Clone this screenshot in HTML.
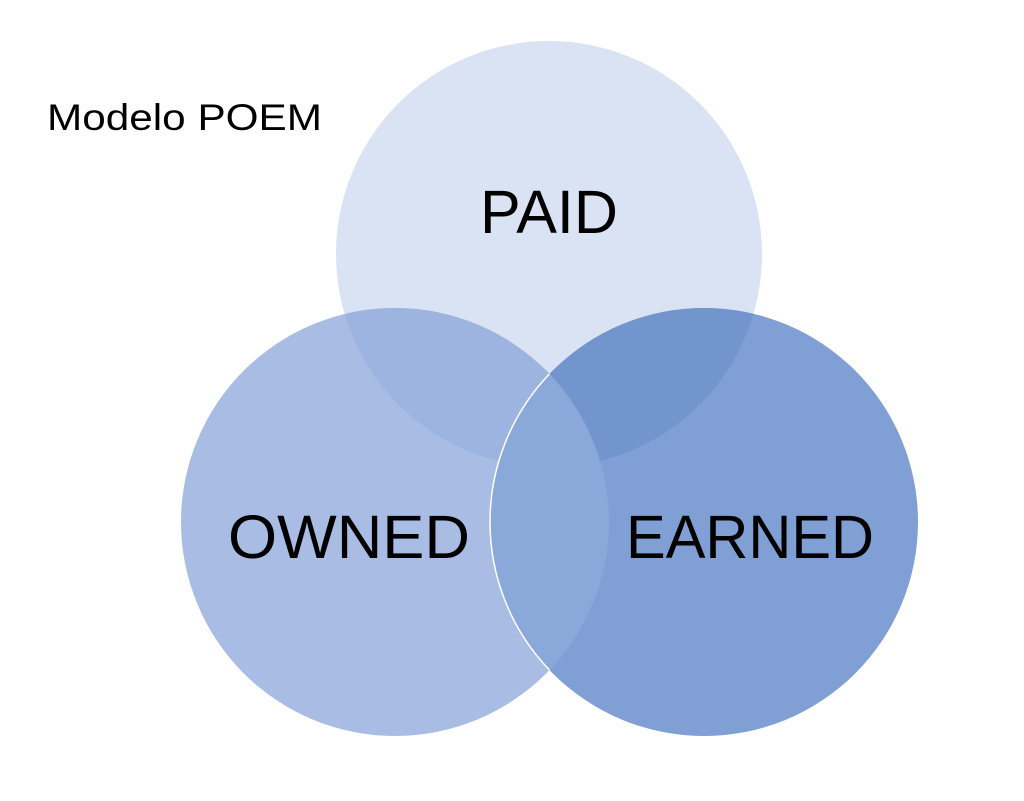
<!DOCTYPE html>
<html><head><meta charset="utf-8"><style>
html,body{margin:0;padding:0;background:#fff;}
svg{display:block;}
text{font-family:"Liberation Sans",sans-serif;fill:#000;}
</style></head><body>
<svg width="1024" height="801" viewBox="0 0 1024 801" xmlns="http://www.w3.org/2000/svg">
<defs>
<clipPath id="cT"><circle cx="549" cy="254" r="213"/></clipPath>
<clipPath id="cL"><circle cx="395" cy="522" r="214"/></clipPath>
</defs>
<rect width="1024" height="801" fill="#fff"/>
<circle cx="549" cy="254" r="213" fill="#dae3f3"/>
<circle cx="395" cy="522" r="214" fill="#a9bde4"/>
<circle cx="704" cy="522" r="214" fill="#7f9fd5"/>
<g clip-path="url(#cT)">
  <circle cx="395" cy="522" r="214" fill="#9db3e0"/>
  <circle cx="704" cy="522" r="214" fill="#7295cd"/>
</g>
<g clip-path="url(#cL)">
  <circle cx="704" cy="522" r="214" fill="#8ba8db"/>
</g>
<circle cx="704" cy="522" r="214" fill="none" stroke="#fff" stroke-width="1.5" clip-path="url(#cL)"/>
<text x="47" y="130" font-size="37" textLength="275" lengthAdjust="spacingAndGlyphs">Modelo POEM</text>
<text x="480" y="233" font-size="61" textLength="138" lengthAdjust="spacingAndGlyphs">PAID</text>
<text x="228" y="558" font-size="61" textLength="242" lengthAdjust="spacingAndGlyphs">OWNED</text>
<text x="626" y="558" font-size="61" textLength="248" lengthAdjust="spacingAndGlyphs">EARNED</text>
</svg>
</body></html>
